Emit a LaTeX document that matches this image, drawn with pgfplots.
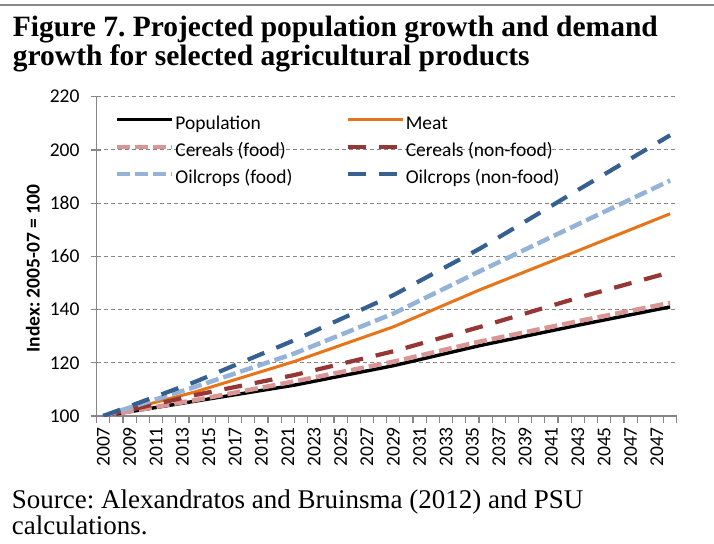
\documentclass[border=0pt]{standalone}
\usepackage{fontspec}
\setmainfont{Liberation Serif}
\newfontfamily\calibri{Carlito}
\usepackage{pgfplots}
\pgfplotsset{compat=1.18}
\usepackage{pgfplotstable}
\frenchspacing

\definecolor{axgray}{HTML}{868686}
\definecolor{rulegray}{HTML}{8A8A8A}
\definecolor{meatorange}{HTML}{E8741A}
\definecolor{cerfood}{HTML}{D99694}
\definecolor{cernon}{HTML}{953735}
\definecolor{oilfood}{HTML}{95B3D7}
\definecolor{oilnon}{HTML}{376092}

% x = years since 2007 (category index)
\pgfplotstableread{
x    pop   cerf  cernf meat  oilf  oilnf
0    100   100   100   100   100   100
7    105.6 106.0 107.9 109.1 111.0 112.9
14.5 111.6 113.0 115.4 120.5 123.5 128.5
22   118.9 120.4 124.3 133.5 138.5 145.4
28.6 126.5 128.0 133.5 147.5 154.5 163.0
36.2 134.3 135.8 144.7 162.5 172.5 185.5
43   141.0 142.5 154.0 176.0 188.5 205.5
}\demand

\begin{document}
\begin{tikzpicture}
\begin{axis}[
    at={(0pt,0pt)}, anchor=south west,
    scale only axis, width=580pt, height=319.3pt,
    xmin=-0.5, xmax=43.5, ymin=100, ymax=220,
    xtick={0,2,...,42},
    xticklabels={2007,2009,2011,2013,2015,2017,2019,2021,2023,2025,2027,
                 2029,2031,2033,2035,2037,2039,2041,2043,2045,2047,2047},
    minor xtick={-0.5,0.5,...,43.5},
    ytick={100,120,...,220},
    axis x line*=bottom, axis y line*=left,
    axis line style={axgray, line width=1.3pt},
    ymajorgrids,
    major grid style={axgray, line width=1.1pt, dash pattern=on 4pt off 3pt},
    tick align=center,
    major tick length=10pt, minor tick length=6.7pt,
    major x tick style={draw=none},
    minor x tick style={axgray, line width=1.2pt, yshift=-3.35pt},
    major y tick style={axgray, line width=1.2pt, xshift=-1pt},
    /pgf/number format/assume math mode=true,
    tick label style={font=\calibri\fontsize{19.5}{20}\selectfont, inner sep=0pt},
    xticklabel style={rotate=90, anchor=east},
    xticklabel shift=6pt,
    yticklabel style={anchor=east},
    yticklabel shift=12pt,
    ylabel={Index: 2005-07 = 100},
    ylabel style={font=\calibri\bfseries\fontsize{19.5}{20}\selectfont,
                  at={(axis description cs:-0.110,0.462)}, anchor=center},
    legend columns=2,
    legend cell align=left,
    legend style={draw=none, fill=none, inner sep=0pt,
        at={(axis description cs:0.031,0.944)}, anchor=north west,
        font=\calibri\fontsize{19.5}{20}\selectfont,
        row sep=7pt,
        nodes={inner sep=1pt, text height=14pt, text depth=4pt},
        /tikz/every odd column/.append style={column sep=0pt},
        /tikz/every even column/.append style={column sep=52pt}},
    legend image code/.code={\draw[#1] (0pt,5pt) -- (55pt,5pt);},
]
\addplot[black, line width=3.4pt] table[x=x, y=pop] {\demand};
\addlegendentry{Population}
\addplot[meatorange, line width=3pt] table[x=x, y=meat] {\demand};
\addlegendentry{Meat}
\addplot[cerfood, line width=4.5pt, dash pattern=on 13pt off 5pt] table[x=x, y=cerf] {\demand};
\addlegendentry{Cereals (food)}
\addplot[cernon, line width=4.2pt, dash pattern=on 18pt off 13pt] table[x=x, y=cernf] {\demand};
\addlegendentry{Cereals (non-food)}
\addplot[oilfood, line width=4.5pt, dash pattern=on 13pt off 5pt] table[x=x, y=oilf] {\demand};
\addlegendentry{Oilcrops (food)}
\addplot[oilnon, line width=4.2pt, dash pattern=on 18pt off 13pt] table[x=x, y=oilnf] {\demand};
\addlegendentry{Oilcrops (non-food)}
\end{axis}

% page furniture
\fill[rulegray] (-96.7pt,410.3pt) rectangle (617.3pt,412.3pt);
\node[anchor=base west, inner sep=0pt, font=\bfseries\fontsize{29.5}{29.5}\selectfont]
    at (-84pt,379pt) {Figure 7. Projected population growth and demand};
\node[anchor=base west, inner sep=0pt, font=\bfseries\fontsize{29.5}{29.5}\selectfont]
    at (-84pt,350pt) {growth for selected agricultural products};
\node[anchor=base west, inner sep=0pt, font=\fontsize{27}{27}\selectfont]
    at (-85pt,-92pt) {Source: Alexandratos and Bruinsma (2012) and PSU};
\node[anchor=base west, inner sep=0pt, font=\fontsize{27}{27}\selectfont]
    at (-85pt,-118pt) {calculations.};

\pgfresetboundingbox
\path (-96.7pt,-127pt) rectangle (617.3pt,416pt);
\end{tikzpicture}
\end{document}
